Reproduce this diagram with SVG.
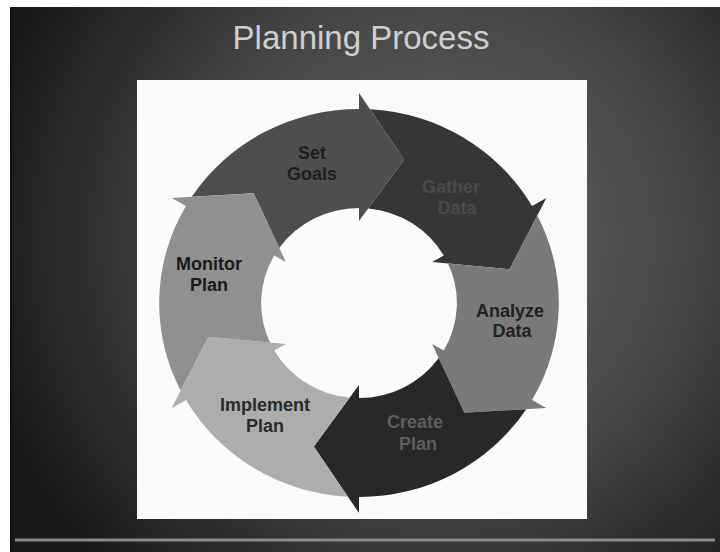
<svg xmlns="http://www.w3.org/2000/svg" xmlns:xlink="http://www.w3.org/1999/xlink" width="720" height="552" viewBox="0 0 720 552">
  <style>
    .title { font-family: "Liberation Sans", Arial, sans-serif; font-size: 33px; fill: #cfcfcf; text-anchor: middle; }
    .lbl { font-family: "Liberation Sans", Arial, sans-serif; font-size: 18px; font-weight: bold; text-anchor: middle; }
  </style>
  <defs>
    <radialGradient id="bg" cx="440" cy="240" r="470" gradientUnits="userSpaceOnUse">
      <stop offset="0" stop-color="#6a6a6a"/>
      <stop offset="0.55" stop-color="#444444"/>
      <stop offset="1" stop-color="#181818"/>
    </radialGradient>
    <path id="arrow" d="M-162.39,-106.15 A194,194 0 0 1 0,-194 L0,-210 L43.86,-143.45 L0,-82 L0,-95 A95,95 0 0 0 -77.42,-55.06 L-102.30,-109.70 Z"/>
  </defs>

  <!-- page margin and slide background -->
  <rect x="0" y="0" width="720" height="552" fill="#ffffff"/>
  <rect x="11" y="7" width="709" height="545" fill="url(#bg)"/>
  <line x1="11" y1="7" x2="11" y2="552" stroke="#111" stroke-width="2"/>

  <text class="title" x="361" y="49">Planning Process</text>

  <rect x="137" y="80" width="450" height="439" fill="#fbfbfb"/>
  <line x1="15" y1="540" x2="715" y2="540" stroke="#8a8a8a" stroke-width="3"/>

  <g id="set-goals">
    <use xlink:href="#arrow" href="#arrow" transform="translate(359,303) scale(1.03,1) rotate(0)" fill="#4e4e4e"/>
    <text class="lbl" fill="#1e1e1e"><tspan x="312" y="159">Set</tspan><tspan x="312" y="180">Goals</tspan></text>
  </g>
  <g id="gather-data">
    <use xlink:href="#arrow" href="#arrow" transform="translate(359,303) scale(1.03,1) rotate(60)" fill="#363636"/>
    <text class="lbl" fill="#4a4a4a"><tspan x="451" y="193">Gather</tspan><tspan x="457" y="214">Data</tspan></text>
  </g>
  <g id="analyze-data">
    <use xlink:href="#arrow" href="#arrow" transform="translate(359,303) scale(1.03,1) rotate(120)" fill="#7a7a7a"/>
    <text class="lbl" fill="#222222"><tspan x="510" y="317">Analyze</tspan><tspan x="512" y="337">Data</tspan></text>
  </g>
  <g id="create-plan">
    <use xlink:href="#arrow" href="#arrow" transform="translate(359,303) scale(1.03,1) rotate(180)" fill="#282828"/>
    <text class="lbl" fill="#5e5e5e"><tspan x="415" y="428">Create</tspan><tspan x="418" y="450">Plan</tspan></text>
  </g>
  <g id="implement-plan">
    <use xlink:href="#arrow" href="#arrow" transform="translate(359,303) scale(1.03,1) rotate(240)" fill="#adadad"/>
    <text class="lbl" fill="#2a2a2a"><tspan x="265" y="411">Implement</tspan><tspan x="265" y="432">Plan</tspan></text>
  </g>
  <g id="monitor-plan">
    <use xlink:href="#arrow" href="#arrow" transform="translate(359,303) scale(1.03,1) rotate(300)" fill="#909090"/>
    <text class="lbl" fill="#1a1a1a"><tspan x="209" y="270">Monitor</tspan><tspan x="209" y="291">Plan</tspan></text>
  </g>

  <g id="connectors"/>
</svg>
